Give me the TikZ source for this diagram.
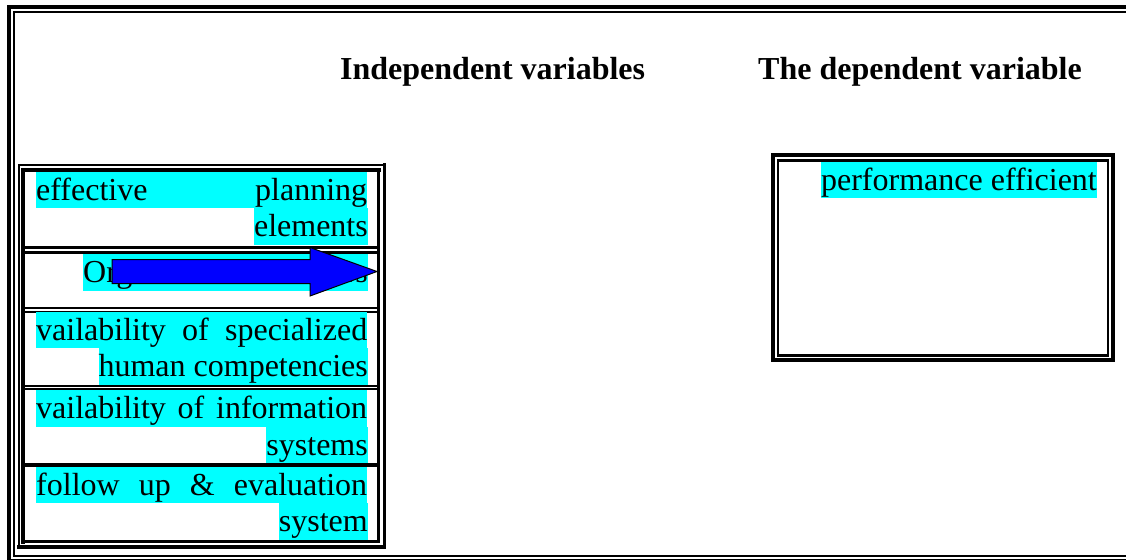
\documentclass[tikz,border=0pt]{standalone}
\usepackage{fontspec}
\setmainfont{Liberation Serif}
\definecolor{hlcyan}{RGB}{0,255,255}
\definecolor{arrowblue}{RGB}{0,0,255}
\begin{document}
\begin{tikzpicture}[x=1pt,y=-1pt,
  txt/.style={inner sep=0pt, font=\fontsize{32}{36.8}\selectfont},
  hl/.style={txt, fill=hlcyan, text height=28.3pt, text depth=8.4pt},
  hlL/.style={hl, anchor=base west},
  hlR/.style={hl, anchor=base east},
  head/.style={txt, font=\fontsize{32}{36.8}\selectfont\bfseries, anchor=base west},
  rule/.style={line cap=rect},
]
\useasboundingbox (0,0) rectangle (1126,559);
\clip (0,0) rectangle (1126,559);

% page frame: thick outer line, thin inner line
\draw[line width=4pt] (9.3,7) rectangle (1140,561);
\draw[line width=2pt] (14,12) rectangle (1132,556);

% headings
\node[head] (indep) at (340,80) {Independent variables};
\node[head] (dep)   at (758,80) {The dependent variable};

% left table: outer double border
\draw[rule, line width=2pt]   (19,547) -- (19,165) -- (384.5,165);
\draw[rule, line width=3.5pt] (384.5,165) -- (384.5,547) -- (19,547);
\draw[rule, line width=4pt]   (23,541.7) -- (23,170) -- (378.5,170);
\draw[rule, line width=2.6pt] (378.5,170) -- (378.5,541.7) -- (23,541.7);

% row separators
\draw[line width=2.7pt] (23,247.3) -- (378.5,247.3);
\draw[line width=2.5pt] (23,252.5) -- (378.5,252.5);
\draw[line width=2pt]   (23,307.7) -- (378.5,307.7);
\draw[line width=2.3pt] (23,312)   -- (378.5,312);
\draw[line width=1.8pt] (23,385.8) -- (378.5,385.8);
\draw[line width=1.8pt] (23,389)   -- (378.5,389);
\draw[line width=4pt]   (23,464.7) -- (378.5,464.7);

% row texts (justified, last line flush right)
\newcommand{\justline}[1]{\makebox[331pt][s]{#1}\hspace{9pt}}
\node[hlL] (r1a) at (36,200)   {\justline{effective planning}};
\node[hlR] (r1b) at (368,236.7) {elements};
\node[hlR] (r2a) at (368,282.6) {Organizational factors};
\node[hlL] (r3a) at (36,340)   {\justline{vailability of specialized}};
\node[hlR] (r3b) at (368,376.7) {human competencies};
\node[hlL] (r4a) at (36,418.3) {\justline{vailability of information}};
\node[hlR] (r4b) at (368,455)   {systems};
\node[hlL] (r5a) at (36,495)   {\justline{follow up \& evaluation}};
\node[hlR] (r5b) at (368,531.7) {system};

% dependent variable box
\draw[line width=4pt]   (773,155.3) rectangle (1113.3,359.7);
\draw[line width=2.5pt] (778,160.3) rectangle (1108,355.3);
\node[hlR] (perf) at (1097,190) {performance efficient};

% block arrow
\draw[fill=arrowblue, line width=1pt, line join=miter]
  (112,259.5) -- (310,259.5) -- (310,247.5) -- (377,271.5)
  -- (310,296) -- (310,283.5) -- (112,283.5) -- cycle;
\end{tikzpicture}
\end{document}
